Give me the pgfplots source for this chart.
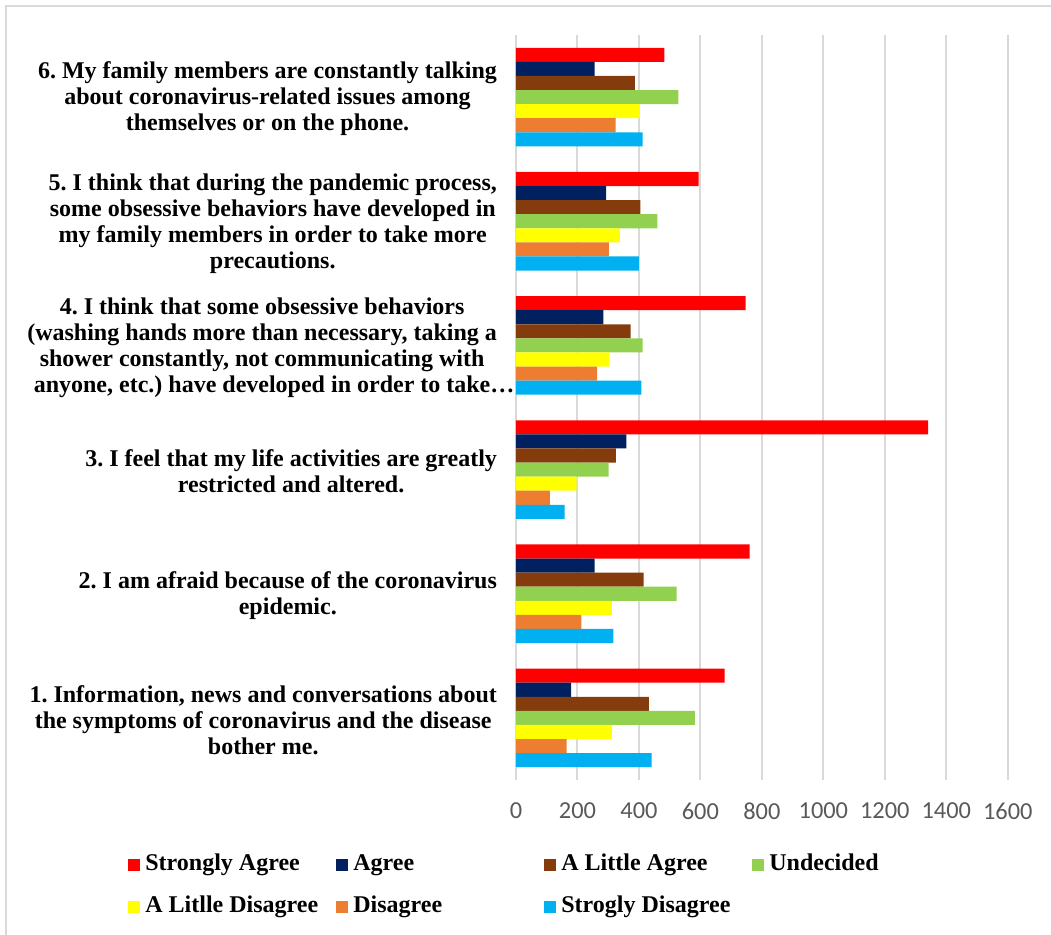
\documentclass[border=0pt]{standalone}
\usepackage{pgfplots}
\pgfplotsset{compat=1.18}
\usepackage{fontspec}
\setmainfont{Liberation Serif}
\newfontfamily\calibri{Carlito}
\frenchspacing
\definecolor{cSA}{RGB}{255,0,0}
\definecolor{cA}{RGB}{0,32,96}
\definecolor{cLA}{RGB}{132,60,12}
\definecolor{cU}{RGB}{146,208,80}
\definecolor{cLD}{RGB}{255,255,0}
\definecolor{cD}{RGB}{237,125,49}
\definecolor{cSD}{RGB}{0,176,240}
\definecolor{gridc}{RGB}{217,217,217}
\definecolor{tickc}{RGB}{89,89,89}
\begin{document}
\begin{tikzpicture}
\useasboundingbox (-258pt,-77.5pt) rectangle (267.5pt,390pt);
\draw[gridc, line width=1pt] (-255pt,-80pt) -- (-255pt,387pt) -- (270pt,387pt);
\begin{axis}[
  scale only axis,
  width=245.9pt, height=372.5pt,
  xmin=0, xmax=1600, ymin=0.5, ymax=6.5,
  xtick={0,200,...,1600},
  ytick={1,2,3,4,5,6},
  yticklabels={
    {1. Information, news and conversations about\\the symptoms of coronavirus and the disease\\bother me.},
    {2. I am afraid because of the coronavirus\\epidemic.},
    {3. I feel that my life activities are greatly\\restricted and altered.},
    {4. I think that some obsessive behaviors\\(washing hands more than necessary, taking a\\shower constantly, not communicating with\\anyone, etc.) have developed in order to take\rlap{…}},
    {5. I think that during the pandemic process,\\some obsessive behaviors have developed in\\my family members in order to take more\\precautions.},
    {6. My family members are constantly talking\\about coronavirus-related issues among\\themselves or on the phone.}
  },
  axis line style={draw=none},
  major tick length=0pt,
  xmajorgrids, grid style={gridc, line width=1pt},
  /pgf/number format/1000 sep={},
  /pgf/number format/assume math mode=true,
  xticklabel style={font=\calibri\fontsize{12.2}{14}\selectfont, text=tickc, yshift=-8pt},
  yticklabel style={font=\bfseries\fontsize{12}{13}\selectfont, align=center, xshift=-6pt, yshift=-1pt},
  xbar, bar width=0.1135,
  legend columns=4,
  legend style={at={(axis description cs:0,0)}, anchor=north west, xshift=-194pt, yshift=-37pt,
    draw=none, inner sep=0pt, row sep=10.5pt,
    font=\bfseries\fontsize{12}{13}\selectfont,
    nodes={inner sep=0pt, text height=8pt, text depth=2.5pt, anchor=west},
    /tikz/every odd column/.append style={column sep=2.5pt}},
  legend image code/.code={\fill[#1,draw=none] (0pt,-3pt) rectangle (6pt,3pt);},
]
\addplot[fill=cSA, draw=none, bar shift=0.3405] coordinates {(679,1) (760,2) (1341,3) (747,4) (594,5) (483,6)};
\addplot[fill=cA, draw=none, bar shift=0.227] coordinates {(179,1) (256,2) (359,3) (284,4) (293,5) (256,6)};
\addplot[fill=cLA, draw=none, bar shift=0.1135] coordinates {(432,1) (415,2) (325,3) (373,4) (405,5) (387,6)};
\addplot[fill=cU, draw=none, bar shift=0] coordinates {(582,1) (523,2) (301,3) (412,4) (460,5) (528,6)};
\addplot[fill=cLD, draw=none, bar shift=-0.1135] coordinates {(312,1) (312,2) (197,3) (304,4) (338,5) (403,6)};
\addplot[fill=cD, draw=none, bar shift=-0.227] coordinates {(165,1) (213,2) (110,3) (264,4) (302,5) (324,6)};
\addplot[fill=cSD, draw=none, bar shift=-0.3405] coordinates {(441,1) (317,2) (158,3) (408,4) (400,5) (412,6)};
\legend{\makebox[95.5pt][l]{Strongly Agree},\makebox[95.5pt][l]{Agree},\makebox[95.5pt][l]{A Little Agree},\makebox[95.5pt][l]{Undecided},\makebox[95.5pt][l]{A Litlle Disagree},\makebox[95.5pt][l]{Disagree},\makebox[95.5pt][l]{Strogly Disagree}}
\end{axis}
\end{tikzpicture}
\end{document}
